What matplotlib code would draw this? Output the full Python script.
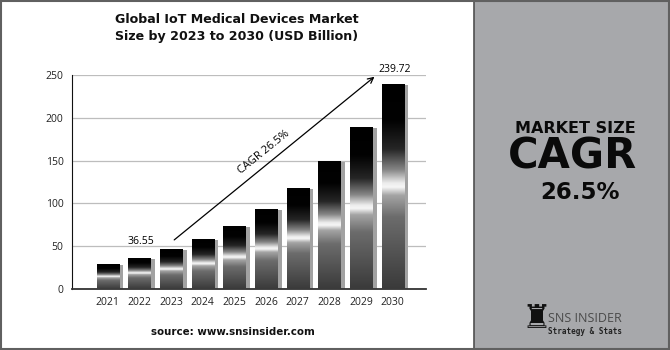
import numpy as np
import matplotlib
matplotlib.use('Agg')
from matplotlib import pyplot as plt
from matplotlib.colors import LinearSegmentedColormap
from matplotlib.patches import Rectangle

years = ['2021', '2022', '2023', '2024', '2025', '2026', '2027', '2028', '2029', '2030']
market_size = [28.9, 36.55, 46.2, 58.5, 74.0, 93.6, 118.4, 149.8, 189.5, 239.72]
yticks = [0, 50, 100, 150, 200, 250]
label_2022 = '36.55'
label_2030 = '239.72'
cagr_text = 'CAGR 26.5%'

# top -> bottom shading of each bar
bar_cmap = LinearSegmentedColormap.from_list('chrome', [
    (0.00, '#000000'), (0.18, '#020202'), (0.32, '#262626'),
    (0.42, '#858585'), (0.485, '#ececec'), (0.505, '#f6f6f6'),
    (0.545, '#a4a4a4'), (0.65, '#6c6c6c'), (1.00, '#3a3a3a')])


def main():
    fig = plt.figure(figsize=(6.7, 3.5), dpi=100)
    fig.patch.set_facecolor('white')

    # right grey panel + frame
    fig.patches.append(Rectangle((474/670, 0), 1 - 474/670, 1, transform=fig.transFigure,
                                 facecolor='#a7a8ab', edgecolor='#505050', lw=1.2, zorder=0))
    fig.patches.append(Rectangle((0.001, 0.002), 0.998, 0.996, transform=fig.transFigure,
                                 facecolor='none', edgecolor='#606060', lw=1.5, zorder=5))

    ax = fig.add_axes([72/670, 61/350, 354/670, 214/350])
    x = np.arange(len(years))
    w = 0.71

    ax.bar(x + 0.135, np.array(market_size) - 1.0, w, color='#a2a2a2', zorder=2)
    bars = ax.bar(x, market_size, w, color='none', zorder=3)
    grad = np.linspace(0, 1, 256).reshape(-1, 1)
    for b in bars:
        bx, by = b.get_x(), b.get_y()
        bw, bh = b.get_width(), b.get_height()
        im = ax.imshow(grad, cmap=bar_cmap, aspect='auto', zorder=3,
                       extent=[bx, bx + bw, by, by + bh], origin='upper')
        im.set_clip_path(b)

    ax.set_xlim(-1.13, 10.05)
    ax.set_ylim(0, 250)
    ax.set_yticks(yticks)
    ax.set_xticks(x)
    ax.set_xticklabels(years)
    ax.tick_params(length=0, labelsize=7.5, pad=6, colors='#222222')
    for lab in ax.get_xticklabels() + ax.get_yticklabels():
        lab.set_family('Open Sans')
    ax.yaxis.grid(True, color='#bdbdbd', lw=0.9, zorder=0)
    ax.set_axisbelow(True)
    for s in ['top', 'right']:
        ax.spines[s].set_visible(False)
    ax.spines['left'].set_color('#111111')
    ax.spines['bottom'].set_color('#333333')
    ax.spines['bottom'].set_linewidth(1.3)

    ax.annotate('', xy=(8.49, 250), xytext=(2.03, 55.3),
                arrowprops=dict(arrowstyle='->', color='black', lw=0.9, mutation_scale=10),
                annotation_clip=False, zorder=4)
    ax.text(4.94, 160, cagr_text, rotation=39, ha='center', va='center',
            fontsize=8, family='Open Sans', rotation_mode='anchor', zorder=4)
    ax.text(1.03, 56, label_2022, ha='center', va='center', fontsize=7.5,
            family='Open Sans', zorder=4)
    ax.text(9.06, 257, label_2030, ha='center', va='center', fontsize=7.5,
            family='Open Sans', clip_on=False, zorder=4)

    fig.text(237/670, 1 - 28/350, 'Global IoT Medical Devices Market\nSize by 2023 to 2030 (USD Billion)',
             ha='center', va='center', fontsize=9.1, fontweight='bold',
             family='DejaVu Sans', linespacing=1.4, color='#111111')
    fig.text(233/670, 1 - 332/350, 'source: www.snsinsider.com', ha='center', va='center',
             fontsize=7.4, fontweight='bold', family='DejaVu Sans', color='#111111')

    # right panel text
    fig.text(575/670, 1 - 133/350, 'MARKET SIZE', ha='center', va='baseline',
             fontsize=11.5, fontweight='bold', family='DejaVu Sans', color='#0a0a0a')
    fig.text(572/670, 1 - 168.5/350, 'CAGR', ha='center', va='baseline',
             fontsize=30, fontweight='bold', family='DejaVu Sans', color='#0a0a0a')
    fig.text(580/670, 1 - 199/350, '26.5%', ha='center', va='baseline',
             fontsize=16.5, fontweight='bold', family='DejaVu Sans', color='#0a0a0a')

    # logo
    fig.text(536/670, 1 - 319/350, '\u265c', ha='center', va='center',
             fontsize=24, family='DejaVu Sans', color='#111111')
    fig.text(548/670, 1 - 318/350, 'SNS INSIDER', ha='left', va='center',
             fontsize=9, family='Open Sans', color='#4a4a4a')
    fig.text(548/670, 1 - 331/350, 'Strategy & Stats', ha='left', va='center',
             fontsize=5.5, fontweight='bold', family='DejaVu Sans Mono', color='#222222')

    fig.savefig('out.png', dpi=100)


main()
